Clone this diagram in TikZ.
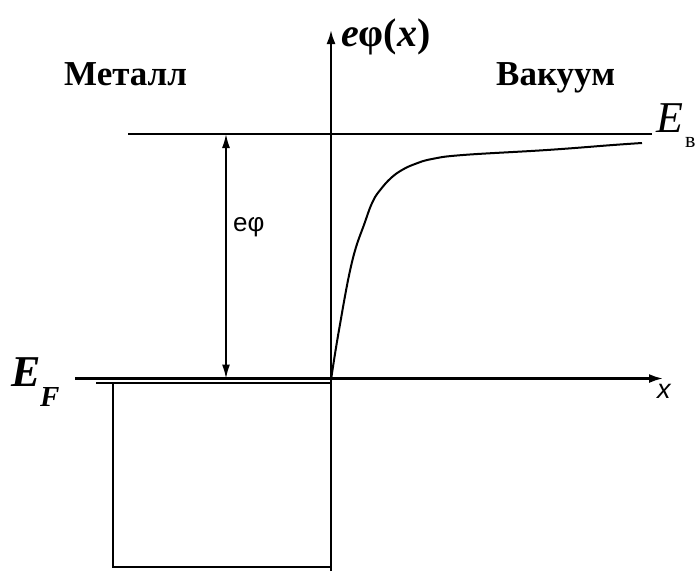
\documentclass[tikz,border=0pt]{standalone}
\usepackage{fontspec}
\setmainfont{Liberation Serif}
\newfontfamily\arialf{Liberation Sans}
\usetikzlibrary{arrows.meta}
\begin{document}
\begin{tikzpicture}[x=1pt,y=-1pt,
  ln/.style={line width=2.2pt},
  axarrow/.style={ln,-{Latex[length=14pt,width=9pt]}},
  dblarrow/.style={line width=1.6pt,{Latex[length=14pt,width=8pt]}-{Latex[length=14pt,width=8pt]}},
  lbl/.style={inner sep=0pt,anchor=base west}]
\useasboundingbox (0,0) rectangle (695,573);
% coordinates
\coordinate (ybot) at (331,571);
\coordinate (ytop) at (331,30);
\coordinate (efl) at (75,378.5);
\coordinate (xend) at (663,378.5);
\coordinate (ebl) at (128,134);
\coordinate (ebr) at (652,134);
\coordinate (atop) at (226,134);
\coordinate (abot) at (226,378.5);
\coordinate (btl) at (96,383);
\coordinate (bl) at (113,383);
\coordinate (blb) at (113,567);
\coordinate (brb) at (331,567);
\coordinate (c0) at (331,383);
% lines
\draw[axarrow] (ybot) -- (ytop);
\draw[axarrow] (efl) -- (xend);
\draw[ln] (ebl) -- (ebr);
\draw[dblarrow] (abot) -- (atop);
\draw[line width=1.8pt] (btl) -- (c0);
\draw[line width=1.8pt] (bl) -- (blb) -- (brb) -- (c0);
\draw[line width=2pt] plot[smooth,tension=0.7] coordinates {(331,380) (339,330) (352,262) (365,222) (373,201) (381,189) (391,178) (402,170) (415,164) (432,159) (463,155) (547,150) (613,145) (642,143)};
% labels
\node[lbl,font=\fontsize{35}{40}\selectfont\bfseries] (metal) at (64,85) {Металл};
\node[lbl,font=\fontsize{35}{40}\selectfont\bfseries] (vac) at (496,85) {Вакуум};
\node[lbl,font=\fontsize{40}{44}\selectfont\bfseries] (ephix) at (341,46) {\textit{e}φ(\textit{x})};
\node[lbl,font=\fontsize{44}{46}\selectfont\bfseries\itshape] (EF) at (11,386) {E};
\node[lbl,font=\fontsize{29}{30}\selectfont\bfseries\itshape] (EFs) at (40,406) {F};
\node[lbl,font=\fontsize{44}{46}\selectfont\itshape] (Eb) at (656,132) {E};
\node[lbl,font=\fontsize{22}{24}\selectfont] (Ebs) at (685,147) {в};
\node[lbl,font=\fontsize{26}{28}\selectfont\arialf] (ephi) at (233,231) {eφ};
\node[lbl,font=\fontsize{27}{28}\selectfont\arialf\itshape] (xl) at (657,398) {x};
\end{tikzpicture}
\end{document}
